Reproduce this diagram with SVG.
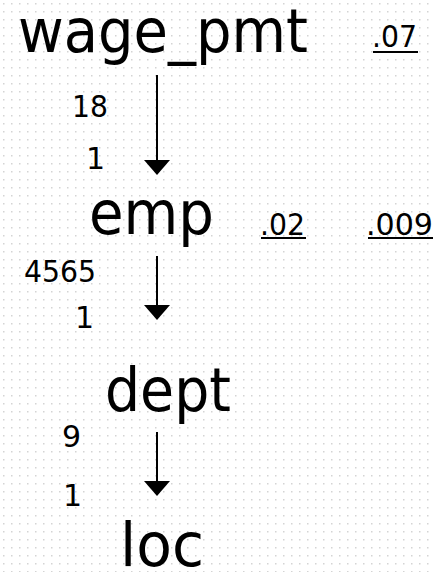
<svg xmlns="http://www.w3.org/2000/svg" width="434" height="572" viewBox="0 0 434 572">
  <defs>
    <pattern id="dots" x="3" y="3" width="8" height="8" patternUnits="userSpaceOnUse">
      <rect x="0" y="0" width="1.5" height="1.5" fill="#d4d4d4"/>
    </pattern>
    <marker id="arrow" markerUnits="userSpaceOnUse" markerWidth="15" markerHeight="26" refX="13" refY="13" orient="auto" viewBox="0 0 15 26">
      <path d="M0,0 L15,13 L0,26 Z" fill="#000"/>
    </marker>
    <style>
      .big { font-family: "DejaVu Sans", Verdana, sans-serif; font-size: 60px; fill: #000; }
      .num { font-family: "DejaVu Sans", Verdana, sans-serif; font-size: 30px; fill: #000; }
      .conn { stroke: #000; stroke-width: 2; fill: none; marker-end: url(#arrow); }
      .ul { stroke: #000; stroke-width: 2; }
    </style>
  </defs>
  <rect width="434" height="572" fill="#fff"/>
  <rect width="434" height="572" fill="url(#dots)"/>

  <g id="wage_pmt">
    <text class="big" x="18" y="52" textLength="290" lengthAdjust="spacingAndGlyphs">wage_pmt</text>
    <text class="num" x="372" y="47" textLength="45" lengthAdjust="spacingAndGlyphs">.07</text>
    <line class="ul" x1="373" y1="52" x2="418" y2="52"/>
  </g>
  <g id="emp">
    <text class="big" x="89" y="234" textLength="125" lengthAdjust="spacingAndGlyphs">emp</text>
    <text class="num" x="260" y="235" textLength="45" lengthAdjust="spacingAndGlyphs">.02</text>
    <line class="ul" x1="261" y1="238" x2="306" y2="238"/>
    <text class="num" x="366" y="235" textLength="67" lengthAdjust="spacingAndGlyphs">.009</text>
    <line class="ul" x1="368" y1="238" x2="433" y2="238"/>
  </g>
  <g id="dept">
    <text class="big" x="105" y="411" textLength="126" lengthAdjust="spacingAndGlyphs">dept</text>
  </g>
  <g id="loc">
    <text class="big" x="120" y="566" textLength="84" lengthAdjust="spacingAndGlyphs">loc</text>
  </g>

  <g id="connectors">
    <line class="conn" x1="157" y1="75" x2="157" y2="173"/>
    <text class="num" x="72" y="117" textLength="36" lengthAdjust="spacingAndGlyphs">18</text>
    <text class="num" x="86" y="169">1</text>

    <line class="conn" x1="157" y1="256" x2="157" y2="318"/>
    <text class="num" x="24" y="282" textLength="72" lengthAdjust="spacingAndGlyphs">4565</text>
    <text class="num" x="75" y="328">1</text>

    <line class="conn" x1="157" y1="432" x2="157" y2="494"/>
    <text class="num" x="62" y="447">9</text>
    <text class="num" x="63" y="506">1</text>
  </g>
</svg>
